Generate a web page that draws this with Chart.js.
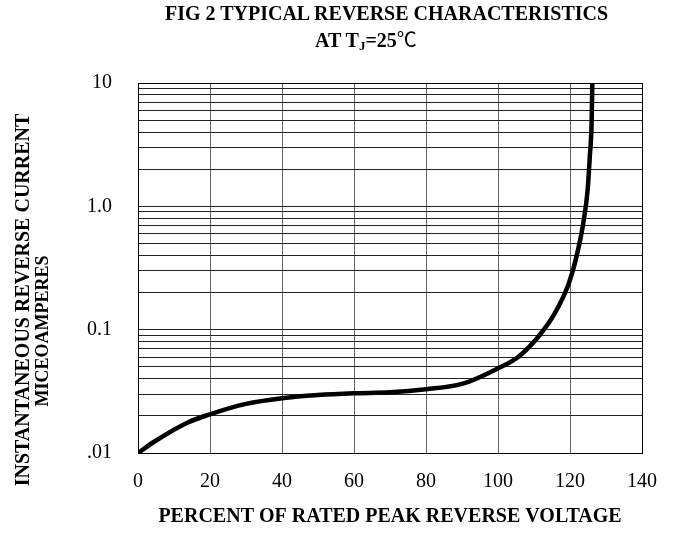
<!DOCTYPE html>
<html>
<head>
<meta charset="utf-8">
<script src="https://cdn.jsdelivr.net/npm/chart.js@4.4.1/dist/chart.umd.min.js"></script>
<style>
  html, body { margin: 0; padding: 0; background: #fff; }
  #wrap { position: relative; width: 674px; height: 541px; overflow: hidden; }
  #chart { position: absolute; left: 0; top: 0; }
  .txt { position: absolute; font-family: 'Liberation Serif', 'Times New Roman', serif; font-weight: bold; color: #000; white-space: nowrap; }
  .title { font-size: 20px; line-height: 26px; }
  .ytitle { transform: translate(-50%, -50%) rotate(-90deg); }
  sub { font-size: 13px; vertical-align: -3px; line-height: 0; }
  .deg { font-family: 'Noto Sans CJK SC', 'DejaVu Sans', sans-serif; font-weight: normal; }
</style>
</head>
<body>
<div id="wrap">
  <canvas id="chart" width="674" height="541"></canvas>
  <div class="txt title" style="left:165px; top:0px;">FIG 2 TYPICAL REVERSE CHARACTERISTICS</div>
  <div class="txt title" style="left:315px; top:26px;">AT T<sub>J</sub>=25<span class="deg">℃</span></div>
  <div class="txt ytitle" style="left:22px; top:300px; font-size:20px; line-height:24px;">INSTANTANEOUS REVERSE CURRENT</div>
  <div class="txt ytitle" style="left:42px; top:331px; font-size:18px; line-height:22px;">MICEOAMPERES</div>
</div>
<script>
// percent of rated peak reverse voltage
var voltagePct = [0, 4.6, 13.7, 20, 30, 40, 50, 60, 70, 80, 90, 100, 105.7, 111.2, 115.8, 119.5, 121.8, 123.7, 124.9, 125.5, 126, 126.2];
// reverse current, microamperes
var reverseCurrent = [0.01, 0.0124, 0.0176, 0.0206, 0.025, 0.0278, 0.0295, 0.0305, 0.0311, 0.0329, 0.0363, 0.0486, 0.0604, 0.0877, 0.136, 0.23, 0.391, 0.733, 1.36, 2.53, 4.71, 10];

var xTickValues = [0, 20, 40, 60, 80, 100, 120, 140];
var yTickValues = [0.01, 0.1, 1, 10];
var yTickLabels = ['.01', '0.1', '1.0', '10'];
var yMinorSteps = [2, 3, 4, 5, 6, 7, 8, 9];

var points = voltagePct.map(function (x, i) { return { x: x, y: reverseCurrent[i] }; });

var serif = "'Liberation Serif', 'Times New Roman', serif";

var ctx = document.getElementById('chart').getContext('2d');
var chart = new Chart(ctx, {
    type: 'line',
    data: {
        datasets: [{
            data: points,
            borderColor: '#000',
            borderWidth: 4.5,
            pointRadius: 0,
            fill: false,
            cubicInterpolationMode: 'monotone'
        }]
    },
    options: {
        responsive: false,
        animation: false,
        devicePixelRatio: 1,
        layout: { padding: { left: 0, top: 83, right: 30, bottom: 0 } },
        plugins: {
            legend: { display: false },
            tooltip: { enabled: false }
        },
        scales: {
            x: {
                type: 'linear',
                min: 0,
                max: 140,
                afterBuildTicks: function (scale) {
                    scale.ticks = xTickValues.map(function (v) { return { value: v }; });
                },
                afterFit: function (scale) { scale.height = 88; },
                ticks: {
                    padding: 17,
                    color: '#000',
                    font: { family: serif, size: 20 }
                },
                grid: {
                    drawTicks: false,
                    lineWidth: 1,
                    color: function (c) { return c.tick && c.tick.value === 140 ? '#000' : '#666'; }
                },
                border: { display: true, color: '#000', width: 1 },
                title: {
                    display: true,
                    text: 'PERCENT OF RATED PEAK REVERSE VOLTAGE',
                    color: '#000',
                    font: { family: serif, size: 20, weight: 'bold' },
                    padding: { top: 0, bottom: 12 }
                }
            },
            y: {
                type: 'logarithmic',
                min: 0.01,
                max: 10,
                afterBuildTicks: function (scale) {
                    var ticks = [];
                    yTickValues.forEach(function (v, i) {
                        ticks.push({ value: v });
                        if (i < yTickValues.length - 1) {
                            yMinorSteps.forEach(function (m) { ticks.push({ value: +(v * m).toPrecision(3) }); });
                        }
                    });
                    scale.ticks = ticks;
                },
                afterFit: function (scale) { scale.width = 138; },
                ticks: {
                    autoSkip: false,
                    padding: 26,
                    color: '#000',
                    font: { family: serif, size: 20 },
                    callback: function (value) {
                        var i = yTickValues.indexOf(value);
                        return i >= 0 ? yTickLabels[i] : '';
                    }
                },
                grid: {
                    drawTicks: false,
                    lineWidth: 1,
                    color: function (c) { return c.tick && c.tick.value === 10 ? '#000' : '#222'; }
                },
                border: { display: true, color: '#000', width: 1 }
            }
        }
    }
});
</script>
</body>
</html>
